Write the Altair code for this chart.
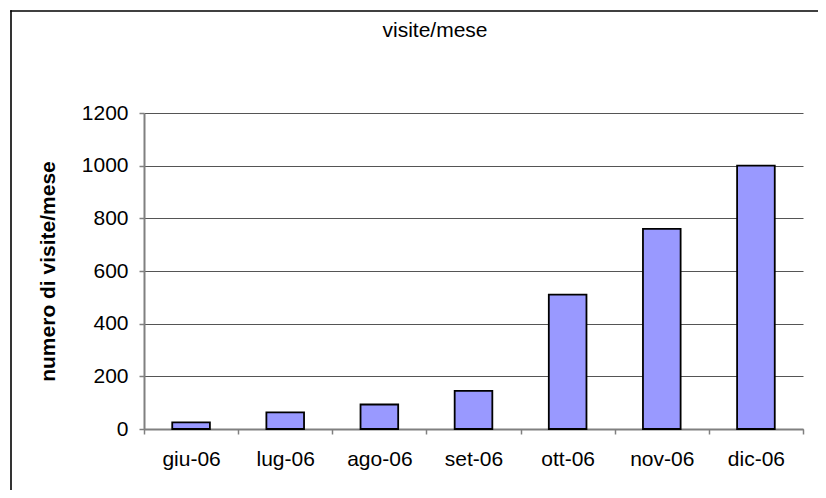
import altair as alt
import pandas as pd

months = ["giu-06", "lug-06", "ago-06", "set-06", "ott-06", "nov-06", "dic-06"]
visits = [25, 63, 93, 145, 510, 760, 1000]
chart_title = "visite/mese"
y_title = "numero di visite/mese"
y_ticks = [0, 200, 400, 600, 800, 1000, 1200]

df = pd.DataFrame({"mese": months, "visite": visits})
FONT = "Liberation Sans"
FS = 21

bars = alt.Chart(df).mark_bar(
    width=alt.RelativeBandSize(0.4),
    fill="#9999FF",
    stroke="#000000",
    strokeWidth=1.8,
).encode(
    x=alt.X(
        "mese:N",
        sort=months,
        scale=alt.Scale(paddingInner=0, paddingOuter=0),
        axis=alt.Axis(
            title=None,
            labelAngle=0,
            tickBand="extent",
            tickSize=5,
            tickColor="#808080",
            tickWidth=1.5,
            domainColor="#808080",
            domainWidth=2,
            labelFont=FONT,
            labelFontSize=FS,
            labelColor="#000000",
            labelPadding=14,
            grid=False,
        ),
    ),
    y=alt.Y(
        "visite:Q",
        scale=alt.Scale(domain=[0, 1200], nice=False),
        axis=alt.Axis(
            values=y_ticks,
            format="d",
            title=y_title,
            titleFont=FONT,
            titleFontSize=FS,
            titleFontWeight="bold",
            titleColor="#000000",
            titleX=-96,
            titleY=158,
            titleAngle=270,
            titleAlign="center",
            titleBaseline="middle",
            tickSize=5,
            tickColor="#808080",
            tickWidth=1.5,
            domainColor="#808080",
            domainWidth=2,
            labelFont=FONT,
            labelFontSize=FS,
            labelColor="#000000",
            labelPadding=11,
            grid=True,
            gridColor="#555555",
            gridWidth=1,
        ),
    ),
)

frame_df = pd.DataFrame({"k": [0]})
left_edge = alt.Chart(frame_df).mark_rule(
    stroke="#000000", strokeWidth=1.6, clip=False
).encode(
    x=alt.value(-133), y=alt.value(-102.8), y2=alt.value(377)
)
top_edge = alt.Chart(frame_df).mark_rule(
    stroke="#000000", strokeWidth=1.6, clip=False
).encode(
    x=alt.value(-133.8), x2=alt.value(674), y=alt.value(-102)
)

title_df = pd.DataFrame({"t": [chart_title]})
title = alt.Chart(title_df).mark_text(
    font=FONT, fontSize=FS, color="#000000", baseline="middle", align="center"
).encode(
    text="t:N", x=alt.value(291), y=alt.value(-82.5)
)

chart = alt.layer(left_edge, top_edge, bars, title).properties(
    width=659,
    height=316,
    autosize=alt.AutoSizeParams(type="none"),
    padding={"left": 136, "top": 105, "right": 15, "bottom": 61},
).configure_view(stroke=None)

chart.save("out.html", embed_options={"renderer": "svg", "actions": False})
